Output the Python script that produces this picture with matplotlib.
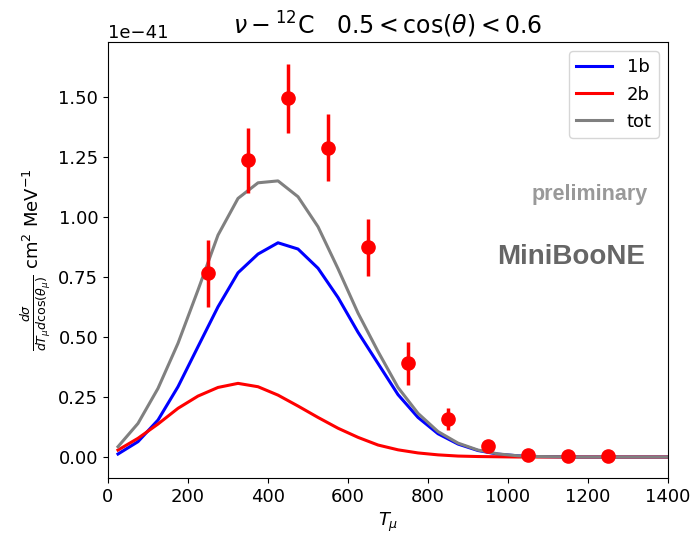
import numpy as np
import matplotlib
matplotlib.use("Agg")
import matplotlib.pyplot as plt

SCALE = 1e-41

# model curves, evaluated at bin centres
t_model = np.arange(25, 1450, 50)
one_body = [0.0125, 0.064, 0.154, 0.293, 0.46, 0.626, 0.768, 0.846, 0.893, 0.867,
            0.787, 0.665, 0.52, 0.39, 0.26, 0.165, 0.097, 0.054, 0.027, 0.012,
            0.005, 0.002, 0.001, 0.0, 0.0, 0.0, 0.0, 0.0, 0.0]
two_body = [0.029, 0.078, 0.1375, 0.203, 0.254, 0.29, 0.307, 0.293, 0.258, 0.2125,
            0.165, 0.12, 0.082, 0.05, 0.03, 0.017, 0.009, 0.004, 0.002, 0.001,
            0.0, 0.0, 0.0, 0.0, 0.0, 0.0, 0.0, 0.0, 0.0]
total = [0.043, 0.14, 0.286, 0.474, 0.696, 0.925, 1.078, 1.143, 1.151, 1.085,
         0.96, 0.785, 0.60, 0.44, 0.29, 0.182, 0.106, 0.058, 0.029, 0.013,
         0.005, 0.002, 0.001, 0.0, 0.0, 0.0, 0.0, 0.0, 0.0]

# MiniBooNE data
t_data = [250, 350, 450, 550, 650, 750, 850, 950, 1050, 1150, 1250]
xs_data = [0.766, 1.2375, 1.495, 1.29, 0.874, 0.39, 0.158, 0.047, 0.008, 0.004, 0.004]
xs_err = [0.14, 0.135, 0.145, 0.14, 0.12, 0.088, 0.045, 0.01, 0.003, 0.002, 0.002]

plt.rcParams["font.size"] = 13

fig = plt.figure(figsize=(6.94, 5.40), dpi=100)
ax = fig.add_axes([0.1556, 0.1148, 0.807, 0.807])

ax.plot(t_model, np.array(one_body) * SCALE, color="blue", lw=2.2, label="1b")
ax.plot(t_model, np.array(two_body) * SCALE, color="red", lw=2.2, label="2b")
ax.plot(t_model, np.array(total) * SCALE, color="grey", lw=2.2, label="tot")
ax.errorbar(t_data, np.array(xs_data) * SCALE, yerr=np.array(xs_err) * SCALE,
            fmt="o", color="red", ms=9.5, elinewidth=2.5, capsize=0, zorder=5)

ax.text(1350, 1.096 * SCALE, "preliminary", ha="right", va="center",
        color="#999999", fontweight="bold", fontsize=15.5, family="Liberation Sans")
ax.text(1342, 0.833 * SCALE, "MiniBooNE", ha="right", va="center",
        color="#666666", fontweight="bold", fontsize=20, family="Liberation Sans")

ax.set_xlim(0, 1400)
ax.set_ylim(-0.0875 * SCALE, 1.729 * SCALE)
ax.set_xlabel(r"$T_\mu$")
ax.set_ylabel(r"$\frac{d\sigma}{dT_\mu d\cos(\theta_\mu)}$ cm$^2$ MeV$^{-1}$")
ax.set_title(r"$\nu-^{12}$C   $0.5 < \cos(\theta) < 0.6$", fontsize=17)
ax.legend(loc="upper right")

fig.savefig("out.png", dpi=100)
